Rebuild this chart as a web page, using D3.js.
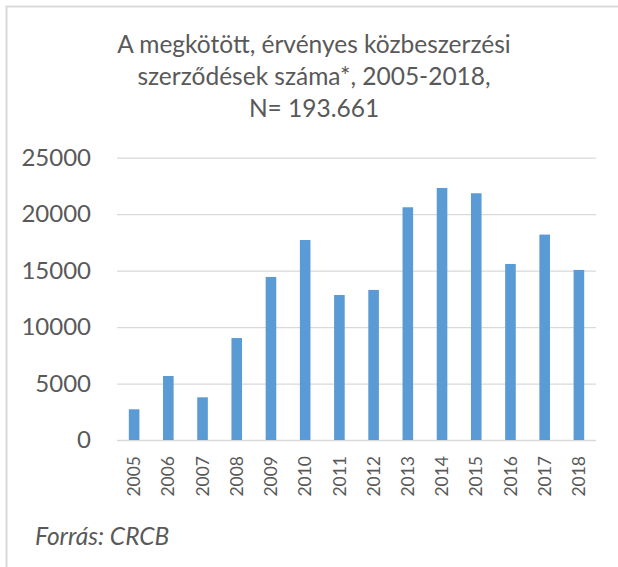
<!DOCTYPE html>
<html>
<head>
<meta charset="utf-8">
<title>Közbeszerzési szerződések</title>
<style>
  body { margin: 0; background: #fff; }
  svg { display: block; font-family: Lato, "Open Sans", sans-serif; }
</style>
</head>
<body>
<script src="https://d3js.org/d3.v7.min.js"></script>
<script>
// adatok
const years = ["2005","2006","2007","2008","2009","2010","2011","2012","2013","2014","2015","2016","2017","2018"];
const contracts = [2720, 5670, 3780, 9030, 14440, 17710, 12840, 13290, 20610, 22320, 21850, 15590, 18190, 15060];
const yTicks = [0, 5000, 10000, 15000, 20000, 25000];
const titleLines = ["A megkötött, érvényes közbeszerzési", "szerződések száma*, 2005-2018,", "N= 193.661"];
const source = "Forrás: CRCB";

const w = 618, h = 567;
const textColor = "#595959";
const gridColor = "#d9d9d9";

const svg = d3.select("body").append("svg")
  .attr("width", w)
  .attr("height", h);

// keret
svg.append("rect")
  .attr("x", 6.5).attr("y", 6.5)
  .attr("width", w + 20).attr("height", h + 20)
  .attr("fill", "none")
  .attr("stroke", gridColor)
  .attr("stroke-width", 2);

// cím
svg.append("g").selectAll("text")
  .data(titleLines)
  .join("text")
  .attr("x", 314)
  .attr("y", (d, i) => 53 + i * 32)
  .attr("text-anchor", "middle")
  .attr("fill", textColor)
  .style("font-size", "24.5px")
  .text(d => d);

const plotLeft = 117, plotRight = 596, plotTop = 157.7, plotBottom = 440;

const x = d3.scaleBand()
  .domain(years)
  .range([plotLeft, plotRight])
  .paddingInner(0.69)
  .paddingOuter(0.345);

const y = d3.scaleLinear()
  .domain([0, 25000])
  .range([plotBottom, plotTop]);

// rácsvonalak + y tengely
const yAxis = svg.append("g")
  .attr("transform", `translate(${plotLeft},0)`)
  .call(d3.axisLeft(y).tickValues(yTicks).tickSize(-(plotRight - plotLeft)).tickPadding(26).tickFormat(d3.format("d")));
yAxis.select(".domain").remove();
yAxis.selectAll(".tick line").attr("stroke", gridColor).attr("stroke-width", 1.3);
yAxis.selectAll(".tick text")
  .attr("fill", textColor)
  .style("font-size", "24px")
  .style("font-family", "Lato, 'Open Sans', sans-serif");

// oszlopok
svg.append("g").selectAll("rect")
  .data(contracts)
  .join("rect")
  .attr("x", (d, i) => x(years[i]))
  .attr("y", d => y(d))
  .attr("width", x.bandwidth())
  .attr("height", d => y(0) - y(d))
  .attr("fill", "#5b9bd5");

// x tengely címkék
svg.append("g").selectAll("text")
  .data(years)
  .join("text")
  .attr("transform", d => `translate(${x(d) + x.bandwidth() / 2},456) rotate(-90)`)
  .attr("dy", "0.35em")
  .attr("text-anchor", "end")
  .attr("fill", textColor)
  .style("font-size", "17.5px")
  .text(d => d);

// forrás
svg.append("text")
  .attr("x", 35)
  .attr("y", 545)
  .attr("fill", textColor)
  .style("font-size", "24.5px")
  .style("font-style", "italic")
  .text(source);
</script>
</body>
</html>
